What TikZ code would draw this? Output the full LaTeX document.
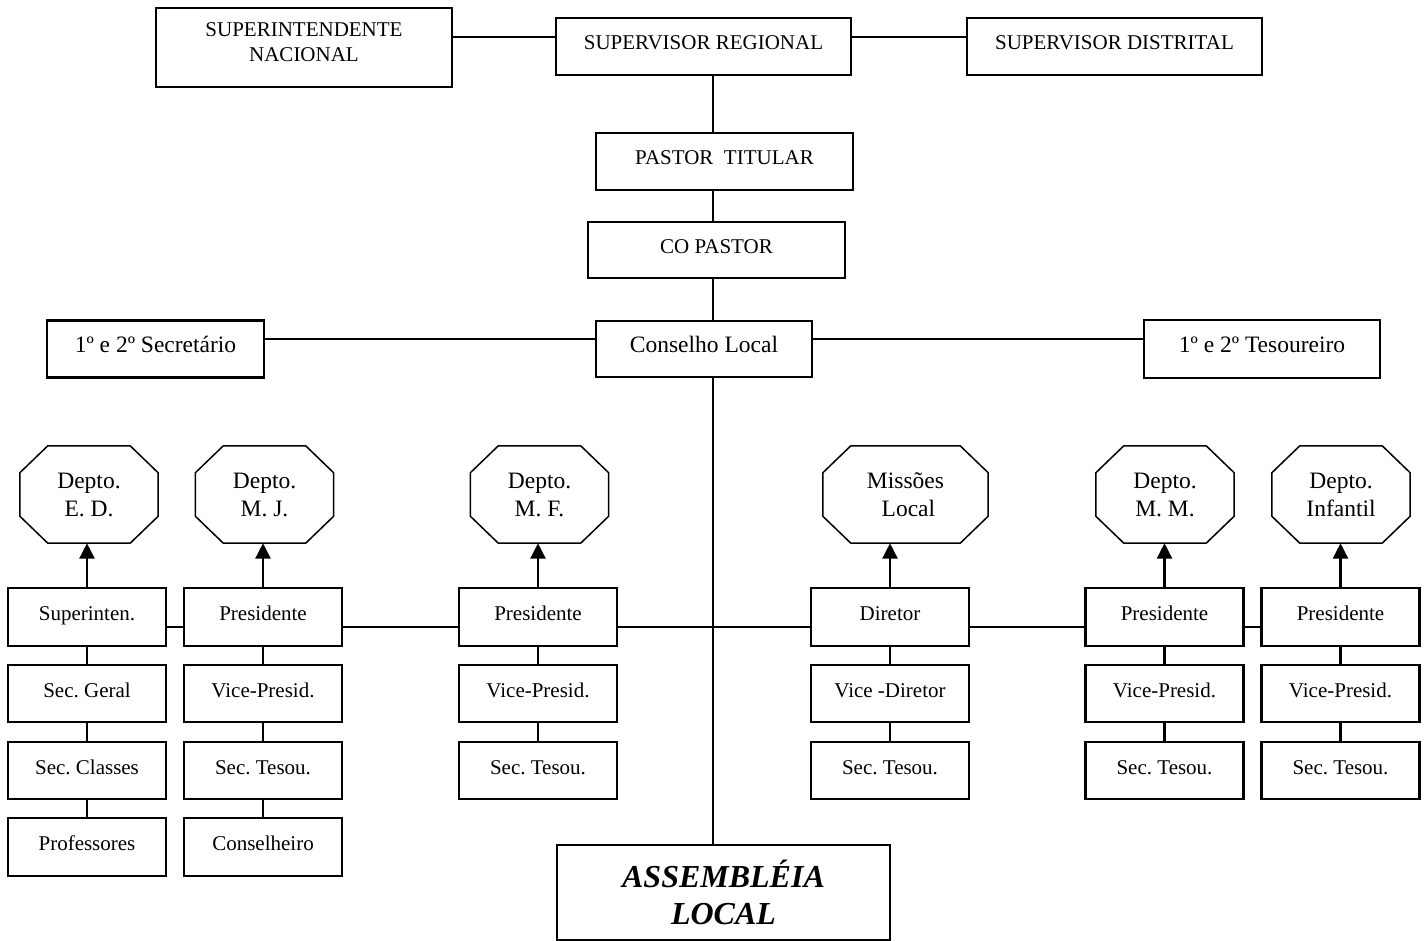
\documentclass[tikz,border=0pt]{standalone}
\usepackage{fontspec}
\setmainfont{Liberation Serif}
\usetikzlibrary{arrows.meta}
\frenchspacing
\newcommand\octpath[1]{%
  \draw[octline] ([xshift=28pt]#1.north west) -- ([xshift=-28pt]#1.north east)
    -- ([yshift=-27pt]#1.north east) -- ([yshift=27pt]#1.south east)
    -- ([xshift=-28pt]#1.south east) -- ([xshift=28pt]#1.south west)
    -- ([yshift=27pt]#1.south west) -- ([yshift=-27pt]#1.north west) -- cycle;}
\begin{document}
\begin{tikzpicture}[x=1pt,y=-1pt,
  box/.style={draw, line width=2.7pt, inner sep=0pt, text height=15pt, text depth=8pt,
     font=\fontsize{21}{25}\selectfont},
  bigbox/.style={box, font=\fontsize{23.5}{27}\selectfont},
  octnode/.style={draw=none, minimum width=138pt, minimum height=97pt, inner sep=0pt, align=center,
     font=\fontsize{23.5}{28}\selectfont},
  octline/.style={line width=1.5pt, line join=miter},
  conn/.style={line width=2.7pt},
  up/.style={line width=2.7pt, -{Triangle[width=15pt,length=15.5pt]}},
  rbox/.style={box, minimum width=158pt}
]
\useasboundingbox (0,0) rectangle (1425,941);
\coordinate (spine) at (713,0);
\coordinate (topline) at (0,37);
\coordinate (midline) at (0,339);
\coordinate (rowline) at (0,627);

% top
\node[box, text height={}, text depth={}, minimum width=296pt, minimum height=79pt] (supnac) at (304,47.5)
  {\raisebox{3pt}[\height][\depth]{\begin{tabular}{@{}c@{}}SUPERINTENDENTE\\NACIONAL\end{tabular}}};
\node[box, minimum width=295pt, minimum height=57pt] (supreg) at (703.5,46.5) {SUPERVISOR REGIONAL};
\node[box, minimum width=295pt, minimum height=57pt] (supdist) at (1114.5,46.5) {SUPERVISOR DISTRITAL};
\node[box, minimum width=257pt, minimum height=57pt] (pastor) at (724.5,161.5) {PASTOR\ \ TITULAR};
\node[box, minimum width=257pt, minimum height=56pt] (copastor) at (716.5,250) {CO PASTOR};
\node[bigbox, minimum width=216pt, minimum height=56pt] (conselho) at (704,349) {Conselho Local};
\node[bigbox, minimum width=217pt, minimum height=57pt] (sec) at (155.5,349) {1º e 2º Secretário};
\node[bigbox, minimum width=236pt, minimum height=58pt] (tes) at (1262,349) {1º e 2º Tesoureiro};
\node[box, text height={}, text depth={}, align=center, minimum width=333pt, minimum height=95pt,
  font=\fontsize{32}{37}\selectfont\bfseries\itshape] (assem) at (723.5,892.5) {ASSEMBLÉIA\\LOCAL};

\draw[conn] (supreg.west |- topline) -- (supnac.east |- topline);
\draw[conn] (supreg.east |- topline) -- (supdist.west |- topline);
\draw[conn] (supreg.south -| spine) -- (pastor.north -| spine);
\draw[conn] (pastor.south -| spine) -- (copastor.north -| spine);
\draw[conn] (copastor.south -| spine) -- (conselho.north -| spine);
\draw[conn] (conselho.west |- midline) -- (sec.east |- midline);
\draw[conn] (conselho.east |- midline) -- (tes.west |- midline);
\draw[conn] (conselho.south -| spine) -- (assem.north -| spine);

% octagons
\node[octnode] (oED) at (89,494.5) {Depto.\\E. D.};
\node[octnode] (oMJ) at (264.5,494.5) {Depto.\\M. J.};
\node[octnode] (oMF) at (539.5,494.5) {Depto.\\M. F.};
\node[octnode, minimum width=165pt] (oML) at (905.5,494.5) {Missões\\\ Local};
\node[octnode] (oMM) at (1165,494.5) {Depto.\\M. M.};
\node[octnode] (oIN) at (1341,494.5) {Depto.\\Infantil};
\octpath{oED}\octpath{oMJ}\octpath{oMF}\octpath{oML}\octpath{oMM}\octpath{oIN}

% column 1
\node[rbox, minimum height=58pt] (a1) at (87,617) {Superinten.};
\node[rbox, minimum height=57pt] (a2) at (87,693.5) {Sec. Geral};
\node[rbox, minimum height=57pt] (a3) at (87,770.5) {Sec. Classes};
\node[rbox, minimum height=58pt] (a4) at (87,847) {Professores};
% column 2
\node[rbox, minimum height=58pt] (b1) at (263,617) {Presidente};
\node[rbox, minimum height=57pt] (b2) at (263,693.5) {Vice-Presid.};
\node[rbox, minimum height=57pt] (b3) at (263,770.5) {Sec. Tesou.};
\node[rbox, minimum height=58pt] (b4) at (263,847) {Conselheiro};
% column 3
\node[rbox, minimum height=58pt] (c1) at (538,617) {Presidente};
\node[rbox, minimum height=57pt] (c2) at (538,693.5) {Vice-Presid.};
\node[rbox, minimum height=57pt] (c3) at (538,770.5) {Sec. Tesou.};
% column 4
\node[rbox, minimum height=58pt] (d1) at (890,617) {Diretor};
\node[rbox, minimum height=57pt] (d2) at (890,693.5) {Vice -Diretor};
\node[rbox, minimum height=57pt] (d3) at (890,770.5) {Sec. Tesou.};
% column 5
\node[rbox, minimum height=58pt] (e1) at (1164.5,617) {Presidente};
\node[rbox, minimum height=57pt] (e2) at (1164.5,693.5) {Vice-Presid.};
\node[rbox, minimum height=57pt] (e3) at (1164.5,770.5) {Sec. Tesou.};
% column 6
\node[rbox, minimum height=58pt] (f1) at (1340.5,617) {Presidente};
\node[rbox, minimum height=57pt] (f2) at (1340.5,693.5) {Vice-Presid.};
\node[rbox, minimum height=57pt] (f3) at (1340.5,770.5) {Sec. Tesou.};

% vertical links
\draw[conn] (a1) -- (a2); \draw[conn] (a2) -- (a3); \draw[conn] (a3) -- (a4);
\draw[conn] (b1) -- (b2); \draw[conn] (b2) -- (b3); \draw[conn] (b3) -- (b4);
\draw[conn] (c1) -- (c2); \draw[conn] (c2) -- (c3);
\draw[conn] (d1) -- (d2); \draw[conn] (d2) -- (d3);
\draw[conn] (e1) -- (e2); \draw[conn] (e2) -- (e3);
\draw[conn] (f1) -- (f2); \draw[conn] (f2) -- (f3);

% row links
\draw[conn] (a1.east |- rowline) -- (b1.west |- rowline);
\draw[conn] (b1.east |- rowline) -- (c1.west |- rowline);
\draw[conn] (c1.east |- rowline) -- (d1.west |- rowline);
\draw[conn] (d1.east |- rowline) -- (e1.west |- rowline);
\draw[conn] (e1.east |- rowline) -- (f1.west |- rowline);

% arrows
\draw[up] (a1.north) -- (a1.north |- oED.south);
\draw[up] (b1.north) -- (b1.north |- oMJ.south);
\draw[up] (c1.north) -- (c1.north |- oMF.south);
\draw[up] (d1.north) -- (d1.north |- oML.south);
\draw[up] (e1.north) -- (e1.north |- oMM.south);
\draw[up] (f1.north) -- (f1.north |- oIN.south);
\end{tikzpicture}
\end{document}
